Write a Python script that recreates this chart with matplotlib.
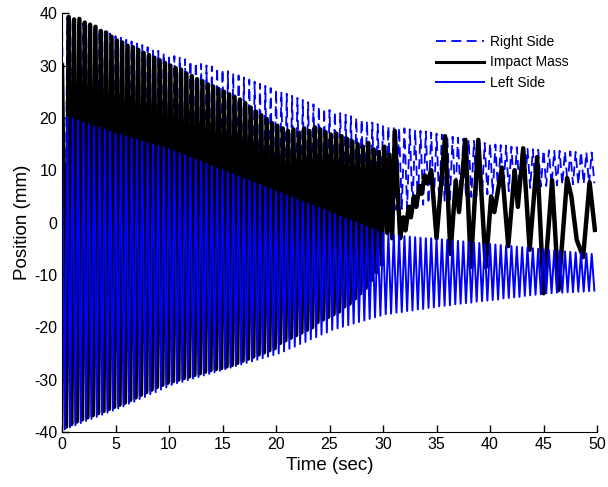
import numpy as np
import matplotlib.pyplot as plt

plt.rcParams['font.family'] = ['Liberation Sans', 'DejaVu Sans']
plt.rcParams['axes.unicode_minus'] = False

# half period of the side oscillation (s): peaks at k*0.5, troughs at k*0.5+0.25
half_period = 0.25
# impact mass extremes lag the side extremes by this much (s)
impact_lag = 0.125

# Right side: peak / trough of every cycle (mm)
right_peaks = [
    39.5, 39.2, 38.8, 38.5, 38.1, 37.7, 37.3, 36.9, 36.5, 36.1,
    35.6, 35.3, 34.9, 34.6, 34.2, 33.9, 33.5, 33.2, 32.8, 32.4,
    32.1, 31.8, 31.5, 31.2, 30.9, 30.6, 30.3, 30.0, 29.8, 29.6,
    29.3, 28.9, 28.5, 28.1, 27.7, 27.3, 26.9, 26.5, 26.1, 25.7,
    25.4, 25.0, 24.6, 24.2, 23.8, 23.4, 23.0, 22.6, 22.2, 21.8,
    21.5, 21.2, 20.9, 20.6, 20.3, 20.0, 19.7, 19.4, 19.1, 18.8,
    18.6, 18.4, 18.3, 18.1, 18.0, 17.8, 17.7, 17.5, 17.4, 17.2,
    17.0, 16.8, 16.6, 16.4, 16.2, 16.0, 15.8, 15.6, 15.4, 15.2,
    15.1, 14.9, 14.8, 14.7, 14.5, 14.4, 14.3, 14.1, 14.0, 13.9,
    13.8, 13.8, 13.7, 13.7, 13.6, 13.6, 13.5, 13.5, 13.4, 13.4]
right_troughs = [
    -18.0, -17.6, -17.2, -16.8, -16.4, -16.0, -15.6, -15.2, -14.8, -14.4,
    -14.0, -13.6, -13.2, -12.8, -12.4, -12.0, -11.6, -11.2, -10.8, -10.4,
    -10.0, -9.7, -9.4, -9.1, -8.8, -8.5, -8.2, -7.9, -7.6, -7.3,
    -7.0, -6.7, -6.4, -6.1, -5.8, -5.5, -5.2, -4.9, -4.6, -4.3,
    -4.0, -3.7, -3.4, -3.1, -2.8, -2.5, -2.2, -1.9, -1.6, -1.3,
    -1.0, -0.7, -0.4, -0.1, 0.2, 0.5, 0.8, 1.1, 1.4, 1.7,
    2.0, 2.2, 2.4, 2.6, 2.8, 3.0, 3.2, 3.4, 3.6, 3.8,
    4.0, 4.2, 4.3, 4.5, 4.6, 4.8, 4.9, 5.1, 5.2, 5.4,
    5.5, 5.7, 5.8, 6.0, 6.1, 6.3, 6.4, 6.6, 6.7, 6.9,
    7.0, 7.1, 7.1, 7.2, 7.2, 7.3, 7.3, 7.4, 7.4, 7.5]

# Left side
left_peaks = [
    20.5, 20.2, 19.8, 19.5, 19.1, 18.8, 18.4, 18.1, 17.7, 17.4,
    17.0, 16.7, 16.4, 16.1, 15.8, 15.5, 15.2, 14.9, 14.6, 14.3,
    14.0, 13.6, 13.2, 12.8, 12.4, 12.0, 11.6, 11.2, 10.8, 10.4,
    10.0, 9.6, 9.2, 8.8, 8.4, 8.0, 7.6, 7.2, 6.8, 6.4,
    6.0, 5.6, 5.2, 4.8, 4.4, 4.0, 3.6, 3.2, 2.8, 2.4,
    2.0, 1.6, 1.2, 0.8, 0.4, 0.0, -0.4, -0.8, -1.2, -1.6,
    -2.0, -2.2, -2.4, -2.5, -2.6, -2.7, -2.8, -2.9, -3.0, -3.0,
    -3.1, -3.2, -3.3, -3.4, -3.5, -3.6, -3.7, -3.8, -3.9, -4.0,
    -4.1, -4.2, -4.3, -4.4, -4.5, -4.6, -4.7, -4.8, -4.9, -5.0,
    -5.1, -5.2, -5.3, -5.4, -5.5, -5.6, -5.7, -5.8, -5.9, -6.0]
left_troughs = [
    -39.5, -39.1, -38.7, -38.3, -37.9, -37.5, -37.1, -36.7, -36.3, -35.9,
    -35.5, -35.1, -34.6, -34.2, -33.7, -33.3, -32.8, -32.4, -31.9, -31.5,
    -31.0, -30.7, -30.4, -30.1, -29.8, -29.5, -29.2, -28.9, -28.6, -28.3,
    -28.0, -27.7, -27.4, -27.1, -26.8, -26.5, -26.2, -25.9, -25.6, -25.3,
    -25.0, -24.6, -24.1, -23.7, -23.2, -22.8, -22.3, -21.9, -21.4, -21.0,
    -20.5, -20.2, -19.9, -19.6, -19.3, -19.0, -18.7, -18.4, -18.1, -17.8,
    -17.5, -17.4, -17.2, -17.1, -16.9, -16.8, -16.6, -16.5, -16.3, -16.2,
    -16.0, -15.9, -15.8, -15.6, -15.5, -15.4, -15.3, -15.1, -15.0, -14.9,
    -14.8, -14.7, -14.5, -14.4, -14.3, -14.2, -14.0, -13.9, -13.8, -13.7,
    -13.5, -13.5, -13.4, -13.4, -13.3, -13.3, -13.2, -13.2, -13.1, -13.0]

# Impact mass: start value, then regular troughs and peaks up to t~30
impact_start = 30.0
impact_troughs = [
    -39.0, -38.5, -38.0, -37.6, -37.2, -36.8, -36.4, -36.0, -35.6, -35.2,
    -34.8, -34.4, -33.9, -33.4, -32.9, -32.4, -31.9, -31.4, -31.0, -30.6,
    -30.3, -30.0, -29.7, -29.4, -29.1, -28.8, -28.5, -28.2, -28.0, -27.8,
    -27.5, -27.2, -26.8, -26.4, -26.0, -25.6, -25.2, -24.8, -24.4, -24.0,
    -23.0, -22.5, -22.0, -21.5, -21.0, -20.5, -20.0, -19.0, -18.5, -18.0,
    -17.5, -17.0, -16.0, -15.5, -14.5, -13.5, -12.5, -11.0, -9.5, -8.0]
impact_peaks = [
    39.3, 38.8, 38.9, 38.2, 37.8, 37.4, 36.6, 36.3, 35.5, 34.8,
    34.4, 33.8, 33.5, 33.0, 32.4, 32.0, 31.5, 31.0, 30.5, 30.0,
    29.5, 29.2, 28.5, 28.0, 27.4, 27.0, 26.4, 26.0, 25.5, 25.0,
    24.5, 24.0, 23.5, 22.8, 22.0, 21.2, 20.5, 19.8, 19.0, 18.5,
    18.0, 17.5, 17.8, 17.2, 18.0, 17.5, 18.2, 17.8, 17.3, 16.8,
    17.0, 16.5, 16.0, 15.5, 15.0, 14.5, 15.2, 14.0, 13.5, 14.5]
# Impact mass after t=30 (irregular motion)
impact_late_t = [30.4, 30.6, 30.85, 31.1, 31.6, 31.9, 32.1, 32.4, 32.6, 32.9,
                 33.1, 33.4, 33.6, 33.9, 34.1, 34.5, 35.0, 35.8, 36.3, 36.8,
                 37.1, 37.7, 38.2, 38.9, 39.6, 40.1, 40.4, 41.1, 41.7, 42.3,
                 42.6, 43.1, 43.7, 44.4, 45.0, 45.8, 46.4, 47.2, 47.6, 48.1,
                 48.7, 49.3, 49.8]
impact_late_y = [-2.0, 13.0, -3.0, 17.5, -3.0, 1.0, -1.5, 3.0, 1.0, 5.0,
                 3.0, 7.0, 5.5, 9.0, 7.5, 10.0, -3.0, 16.5, -6.0, 8.0,
                 2.0, 15.8, -8.5, 15.8, -8.5, 5.0, 2.0, 10.5, -4.5, 10.0,
                 3.0, 14.2, -5.2, 12.5, -13.5, 8.1, -12.9, 8.5, 5.0, -3.3,
                 -6.6, 7.7, -1.4]


def zigzag(peaks, troughs):
    vals = np.column_stack([peaks, troughs]).ravel()
    t = np.arange(len(vals)) * half_period
    return t, vals


t_r, y_r = zigzag(right_peaks, right_troughs)
t_l, y_l = zigzag(left_peaks, left_troughs)

imp_vals = np.column_stack([impact_troughs, impact_peaks]).ravel()
imp_t = (np.arange(len(imp_vals)) + 1) * half_period + impact_lag
t_i = np.concatenate([[0.0], imp_t, impact_late_t])
y_i = np.concatenate([[impact_start], imp_vals, impact_late_y])

fig = plt.figure(figsize=(6.08, 4.87), dpi=100)
ax = fig.add_axes([0.102, 0.113, 0.880, 0.860])

ax.plot(t_r, y_r, color='#0000ff', lw=1.3, dashes=(5.5, 3), label='Right Side')
ax.plot(t_i, y_i, color='black', lw=3.2, label='Impact Mass')
ax.plot(t_l, y_l, color='#0000ff', lw=1.4, label='Left Side')

ax.set_xlim(0, 50)
ax.set_ylim(-40, 40)
ax.set_xticks(np.arange(0, 51, 5))
ax.set_yticks(np.arange(-40, 41, 10))
ax.tick_params(direction='in', length=5, width=1, labelsize=11.5)
ax.spines['top'].set_visible(False)
ax.spines['right'].set_visible(False)
ax.set_xlabel('Time (sec)', fontsize=13.5)
ax.set_ylabel('Position (mm)', fontsize=13.5, labelpad=2)

leg = ax.legend(loc='upper left', bbox_to_anchor=(0.705, 0.942), bbox_transform=fig.transFigure,
                frameon=False, fontsize=10, handlelength=3.5, handletextpad=0.4,
                labelspacing=0.45, borderpad=0)
leg.get_lines()[1].set_linewidth(2.2)

fig.savefig('out.png', dpi=100)
